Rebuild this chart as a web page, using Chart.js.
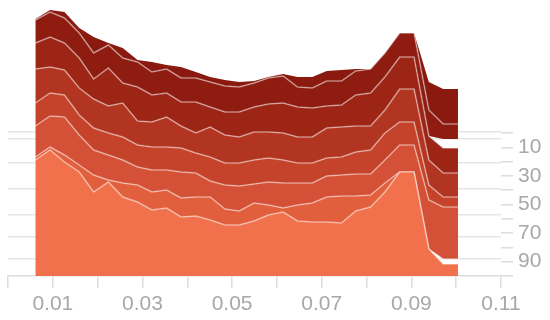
<!DOCTYPE html>
<html>
<head>
<meta charset="utf-8">
<script src="https://cdn.jsdelivr.net/npm/chart.js@4/dist/chart.umd.min.js"></script>
<style>
  html, body { margin: 0; padding: 0; background: #fff; }
  #chart { display: block; }
</style>
</head>
<body>
<canvas id="chart" width="550" height="320"></canvas>
<script>
// x positions of the samples
const xValues = [0.0061, 0.0094, 0.0126, 0.0159, 0.0191, 0.0224, 0.0256, 0.0289, 0.0321, 0.0354,
                 0.0386, 0.0419, 0.0451, 0.0484, 0.0516, 0.0549, 0.0581, 0.0614, 0.0646, 0.0679,
                 0.0711, 0.0744, 0.0776, 0.0809, 0.0841, 0.0874, 0.0906, 0.0939, 0.0971, 0.1004];

// stacked layers, bottom to top
const layer1 = [58, 63, 57, 52, 42, 47, 39.5, 37, 33, 34, 29.5, 30, 28, 25.5, 25.5, 27.5, 30.5, 32, 27.5, 27,
                27, 26.5, 32.5, 34.5, 42, 52, 52, 13.5, 6, 6];
const gapLow = [0, 0, 0, 0, 0, 0, 0, 0, 0, 0, 0, 0, 0, 0, 0, 0, 0, 0, 0, 0,
                0, 0, 0, 0, 0, 0, 0, 0, 2.5, 2.5];
const layer2 = [1.5, 1.5, 3.5, 3.5, 8.5, 1, 7, 8.5, 9, 9, 9.5, 9.5, 11.5, 8, 7, 9, 5, 2, 8, 9.5,
                12.5, 13.5, 7.5, 6, 4.5, 0, 0, 0, 0, 0];
const layer3 = [15.5, 15.5, 19, 15, 12.5, 12.5, 11.5, 9, 11, 10, 13, 12, 8, 12, 12.5, 9.5, 11.5, 12.5, 11, 10,
                10.5, 10.5, 11, 10.5, 11.5, 13.5, 13.5, 24.5, 26, 26];
const layer4 = [11.5, 11.5, 11, 10, 11, 11, 11.5, 11, 11.5, 11.5, 12, 10, 12, 11, 11.5, 12, 12, 11.5, 10, 10,
                9, 9, 11, 12, 13.5, 11.5, 11.5, 7.5, 5, 5];
const layer5 = [17, 13, 12.5, 13.5, 14.5, 13.5, 17, 12, 12.5, 15, 11, 10, 15, 14, 13, 14, 13, 13.5, 13, 13,
                15, 15, 13, 12, 11.5, 16.5, 16.5, 12.5, 12, 12];
const layer6 = [13, 15, 13.5, 15, 10, 19, 10, 17, 13.5, 12, 12, 15.5, 10, 11.5, 12.5, 12.5, 14, 15, 15, 14.5,
                11, 11, 15.5, 16.5, 16.5, 16, 16, 12, 12.5, 12.5];
const gapHigh = [0, 0, 0, 0, 0, 0, 0, 0, 0, 0, 0, 0, 0, 0, 0, 0, 0, 0, 0, 0,
                 0, 0, 0, 0, 0, 0, 0, 0, 4.5, 4.5];
const layer7 = [11.5, 12.5, 12.5, 12.5, 13, 11.5, 12.5, 12.5, 11.5, 12, 12, 12, 12.5, 13, 12.5, 12, 13, 13.5, 10, 10,
                12.5, 12, 12, 12, 12, 12, 12, 13, 7.5, 7.5];
const layer8 = [0.5, 1, 3, 2.5, 8, 1, 5, 1, 5, 2, 5.5, 3, 2.5, 3, 2.5, 1, 0.5, 1, 5, 5.5,
                5, 5.5, 1, 0, 0, 0, 0, 14, 17.5, 17.5];

const xTicks = [0, 0.01, 0.02, 0.03, 0.04, 0.05, 0.06, 0.07, 0.08, 0.09, 0.10, 0.11];
const rightTicks = [0, 10, 20, 30, 40, 50, 60, 70, 80, 90, 100];
const gridValues = [8.5, 19.5, 30.5, 43.5, 56.5, 68.5, 72];

const layerColors = ['#f0714b', '#e25f3e', '#d45036', '#c5432a', '#b13520', '#9d2516', '#8e1c11', '#8a1a10'];
const lineColor = 'rgba(255,255,255,0.45)';
const labelFont = { family: 'Liberation Sans, Arial, sans-serif', size: 21 };

function pts(arr) {
    return arr.map((v, i) => ({ x: xValues[i], y: v }));
}

function layer(arr, color, first, top) {
    return {
        data: pts(arr),
        backgroundColor: color,
        borderColor: top ? color : lineColor,
        borderWidth: top ? 0 : 1.5,
        fill: first ? 'origin' : '-1',
        pointRadius: 0,
        tension: 0
    };
}

function gap(arr) {
    return {
        data: pts(arr),
        backgroundColor: 'rgba(0,0,0,0)',
        borderWidth: 0,
        fill: false,
        pointRadius: 0
    };
}

function noPad(s) {
    s.paddingTop = 0;
    s.paddingBottom = 0;
    s.paddingLeft = 0;
    s.paddingRight = 0;
}

new Chart(document.getElementById('chart'), {
    type: 'line',
    data: {
        datasets: [
            layer(layer1, layerColors[0], true),
            gap(gapLow),
            layer(layer2, layerColors[1]),
            layer(layer3, layerColors[2]),
            layer(layer4, layerColors[3]),
            layer(layer5, layerColors[4]),
            layer(layer6, layerColors[5]),
            gap(gapHigh),
            layer(layer7, layerColors[6]),
            layer(layer8, layerColors[7], false, true)
        ]
    },
    options: {
        responsive: false,
        animation: false,
        layout: { padding: { left: 8, top: 8, right: 0, bottom: 0 } },
        plugins: { legend: { display: false }, tooltip: { enabled: false } },
        scales: {
            x: {
                type: 'linear',
                min: 0,
                max: 0.11,
                afterBuildTicks: s => { s.ticks = xTicks.map(v => ({ value: v })); },
                afterFit: s => { s.height = 44; noPad(s); },
                ticks: {
                    autoSkip: false,
                    maxRotation: 0,
                    padding: 4,
                    color: '#a8a8a8',
                    font: labelFont,
                    callback: v => (Math.round(v * 100) % 2 === 1 ? v.toFixed(2) : '')
                },
                grid: { drawOnChartArea: false, tickLength: 12, color: '#dddddd', lineWidth: 1.5 },
                border: { display: true, color: '#dddddd', width: 1.5 }
            },
            y: {
                type: 'linear',
                position: 'left',
                stacked: true,
                min: 0,
                max: 134,
                afterBuildTicks: s => { s.ticks = gridValues.map(v => ({ value: v })); },
                afterFit: s => { s.width = 0; noPad(s); },
                ticks: { display: false },
                grid: { drawTicks: false, color: '#e6e6e6', lineWidth: 1.5 },
                border: { display: false }
            },
            y2: {
                type: 'linear',
                position: 'right',
                reverse: true,
                min: -87.4,
                max: 100,
                afterBuildTicks: s => { s.ticks = rightTicks.map(v => ({ value: v })); },
                afterFit: s => { s.width = 49; noPad(s); },
                ticks: {
                    autoSkip: false,
                    padding: 5,
                    color: '#a8a8a8',
                    font: labelFont,
                    callback: v => (v % 20 === 10 ? String(v) : '')
                },
                grid: { drawOnChartArea: false, tickLength: 12, color: '#dddddd', lineWidth: 1.5 },
                border: { display: false }
            }
        }
    }
});
</script>
</body>
</html>
